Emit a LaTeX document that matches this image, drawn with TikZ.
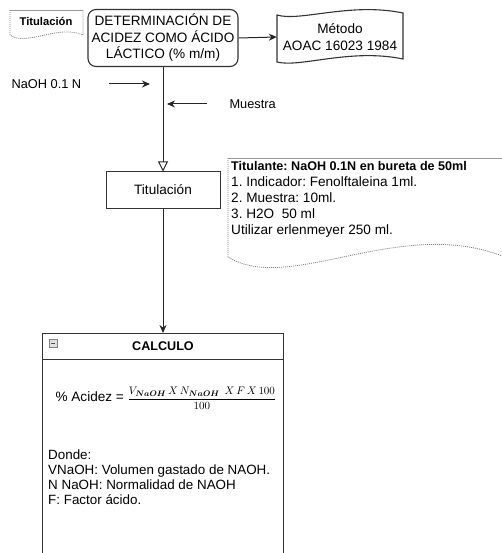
\documentclass[tikz,border=0pt]{standalone}
\usepackage{bm}
\usepackage{fontspec}
\setmainfont{Liberation Sans}
\usetikzlibrary{arrows.meta}
\frenchspacing

\begin{document}
\begin{tikzpicture}[x=1pt,y=-1pt,
  proc/.style={draw=black!80,line width=1.1pt,align=center,font=\fontsize{13.6}{16.5}\selectfont},
  dotline/.style={gray,line width=0.8pt,dash pattern=on 1pt off 1pt},
  toparrow/.style={draw=black!85,line width=1pt,-{Stealth[length=8pt,width=7pt]}}]
\useasboundingbox (0,0) rectangle (502,553);

\draw[gray!80,line width=0.8pt] (10,10) -- (83,10);
\draw[dotline] (10,10) -- (10,35) .. controls (26,47) and (58,24) .. (83,35) -- (83,10);
\node[font=\fontsize{11.2}{13}\selectfont\bfseries] (doc) at (46,21) {Titulación};

\node[proc,rounded corners=8pt,minimum width=150,minimum height=57] (det) at (163,38)
  {DETERMINACIÓN DE\\ACIDEZ COMO ÁCIDO\\LÁCTICO (\% m/m)};

\draw[black!80,line width=1.1pt] (277,15) .. controls (300,22) and (350,2) .. (403,13)
  -- (403,59) .. controls (350,48) and (300,68) .. (277,62) -- cycle;
\node[align=center,font=\fontsize{13.6}{17}\selectfont,minimum width=126] (met) at (340,37)
  {Método\\AOAC 16023 1984};
\draw[toparrow] (det.east) -- (met.west);

\node[proc,line width=1pt,minimum width=114,minimum height=36] (tit) at (163,190) {Titulación};
\draw[black!85,line width=1pt,-{Triangle[open,length=10pt,width=10pt]}] (det.south) -- (tit.north);

\node[anchor=west,font=\fontsize{12.8}{15}\selectfont] (naoh) at (8,84) {NaOH 0.1 N};
\coordinate (naohA) at (109,84);
\coordinate (naohB) at (150,84);
\draw[toparrow] (naohA) -- (naohB);
\node[anchor=west,font=\fontsize{12.8}{15}\selectfont] (mue) at (226,104) {Muestra};
\coordinate (mueA) at (207,104);
\coordinate (mueB) at (167,104);
\draw[toparrow] (mueA) -- (mueB);

\draw[gray!80,line width=0.8pt] (228,158) -- (502,158);
\draw[dotline] (228,158) -- (228,257) .. controls (290,295) and (400,215) .. (505,257);
\node[anchor=north west,align=left,inner sep=0pt,font=\fontsize{13.6}{16}\selectfont] (nota) at (231,161)
  {{\fontsize{12.6}{16}\selectfont\bfseries Titulante: NaOH 0.1N en bureta de 50ml}\\
   1. Indicador: Fenolftaleina 1ml.\\2. Muestra: 10ml.\\3. H2O\ \ 50 ml\\Utilizar erlenmeyer 250 ml.};

\node[draw=black!80,line width=1.1pt,minimum width=241,minimum height=230,anchor=north] (calcbox) at (163,333) {};
\draw[black!80,line width=1pt] (42,359) -- (283,359);
\draw[toparrow] (tit.south) -- (calcbox.north);
\draw[gray,fill=black!12] (49,339) rectangle (57,347);
\draw[black!70,line width=1pt] (51,343) -- (55,343);
\node[font=\fontsize{12.6}{15}\selectfont\bfseries] (calc) at (163,346) {CALCULO};

\node[anchor=west,font=\fontsize{13.6}{16}\selectfont] (formula) at (52,398)
  {\% Acidez = {\fontsize{10.8}{13}\selectfont$\displaystyle\frac{V_{\bm{NaOH}}\,X\,N_{\bm{NaOH}}\;\,X\,F\,X\,100}{100}$}};

\node[anchor=north west,align=left,inner sep=0pt,font=\fontsize{13.4}{15}\selectfont] (donde) at (48,450)
  {Donde:\\VNaOH: Volumen gastado de NAOH.\\N NaOH: Normalidad de NAOH\\F: Factor ácido.};
\end{tikzpicture}
\end{document}
